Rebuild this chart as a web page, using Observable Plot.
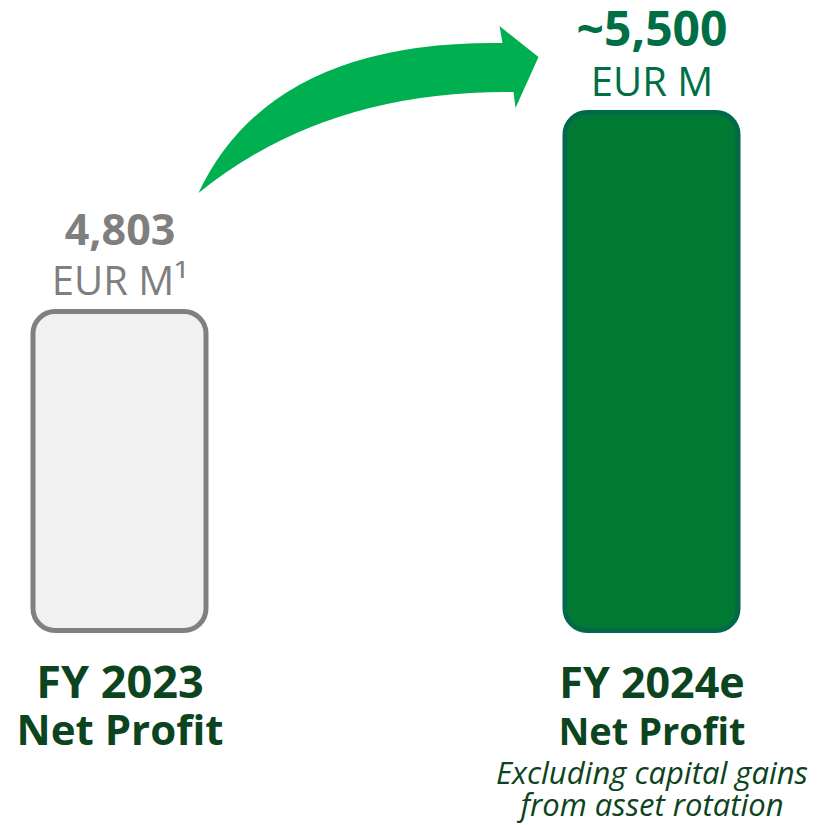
<!DOCTYPE html>
<html><head><meta charset="utf-8">
<script src="https://cdn.jsdelivr.net/npm/d3@7"></script>
<script src="https://cdn.jsdelivr.net/npm/@observablehq/plot@0.6"></script>
<style>body{margin:0;background:#fff}</style>
</head><body><div id="chart"></div>
<script>
const categories = ["FY 2023", "FY 2024e"];
const values = [4803, 5500];
const valueLabels = ["4,803", "~5,500"];
const unitLabels = ["EUR M\u00b9", "EUR M"];
const subLabels = ["Net Profit", "Net Profit"];
const noteLines = ["Excluding capital gains", "from asset rotation"];
const baseline = 3686;

const fills = ["#f1f1f1", "#007a33"];
const strokes = ["#808080", "#00694a"];
const labelColors = ["#7f7f7f", "#006f45"];
const catColor = "#0c4420";

const data = categories.map((c, i) => ({
  cat: c, value: values[i], label: valueLabels[i], unit: unitLabels[i],
  sub: subLabels[i], fill: fills[i], stroke: strokes[i], lc: labelColors[i],
  vsize: i === 0 ? 43 : 48, csize: i === 0 ? 45 : 43, ssize: i === 0 ? 42 : 38
}));
const notes = noteLines.map((t, i) => ({cat: categories[1], text: t, line: i}));

const arrowMark = (index, scales) => {
  const x = scales.x, y = scales.y;
  const tx = x(categories[0]) + x.bandwidth() - 7.5;
  const ty = y(values[0]) - 118.5;
  const p = document.createElementNS("http://www.w3.org/2000/svg", "path");
  p.setAttribute("d", "M0,0 Q72,-153 304,-150 L301,-167 L340,-136 L317,-85 L315,-101 Q127,-103 0,0 Z");
  p.setAttribute("transform", `translate(${tx},${ty})`);
  p.setAttribute("fill", "#00b050");
  return p;
};

const chart = Plot.plot({
  width: 825, height: 825, margin: 0,
  style: {fontFamily: "'Open Sans', sans-serif", background: "#fff"},
  x: {domain: categories, range: [32.5, 737.5], paddingInner: 0.675, paddingOuter: 0, axis: null},
  y: {domain: [baseline, 5500], range: [630.5, 112.5], axis: null},
  color: {type: "identity"},
  marks: [
    Plot.barY(data, {x: "cat", y1: baseline, y2: "value", fill: "fill", stroke: "stroke", strokeWidth: 5, rx: 22}),
    arrowMark,
    Plot.text(data, {x: "cat", y: "value", text: "label", dy: -67, lineAnchor: "bottom", fontSize: "vsize", fontWeight: 700, fill: "lc"}),
    Plot.text(data, {x: "cat", y: "value", text: "unit", dy: -17, lineAnchor: "bottom", fontSize: 40, fontWeight: 400, fill: "lc"}),
    Plot.text(data, {x: "cat", y: baseline, text: "cat", lineAnchor: "bottom", fontSize: "csize", fontWeight: 700, fill: catColor, dy: 67}),
    Plot.text(data, {x: "cat", y: baseline, text: "sub", lineAnchor: "bottom", fontSize: "ssize", fontWeight: 700, fill: catColor, dy: 114}),
    Plot.text(notes.filter(d => d.line === 0), {x: "cat", y: baseline, text: "text", lineAnchor: "bottom", fontSize: 31, fontStyle: "italic", fill: catColor, dy: 153}),
    Plot.text(notes.filter(d => d.line === 1), {x: "cat", y: baseline, text: "text", lineAnchor: "bottom", fontSize: 31, fontStyle: "italic", fill: catColor, dy: 185})
  ]
});
document.getElementById("chart").appendChild(chart);
</script>
</body></html>
